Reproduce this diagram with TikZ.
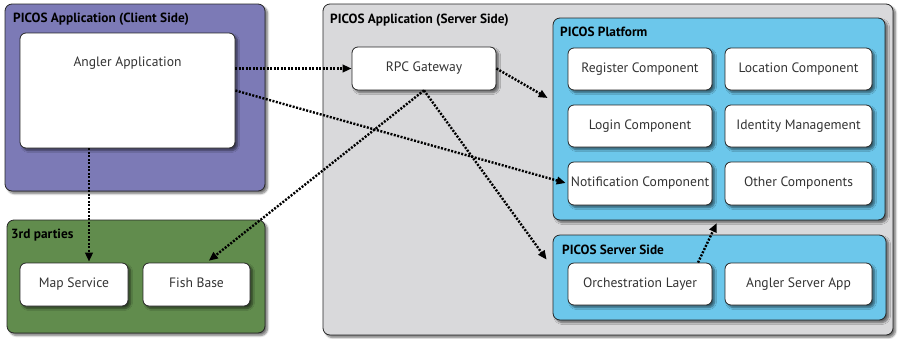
\documentclass[tikz,border=0pt]{standalone}
\usepackage{fontspec}
\setmainfont{PT Sans}
\usetikzlibrary{arrows.meta,shadows.blur,calc}
\definecolor{clientc}{HTML}{7C7AB6}
\definecolor{thirdc}{HTML}{618C4D}
\definecolor{serverc}{HTML}{D9D9DB}
\definecolor{platc}{HTML}{6CC7EB}
\tikzset{
  shad/.style={blur shadow={shadow xshift=2.5pt,shadow yshift=-2.5pt,shadow blur steps=6,shadow opacity=55}},
  grp/.style={shad, draw=black!85, line width=0.8pt, rounded corners=7pt, inner sep=0pt},
  comp/.style={shad, draw=black!85, fill=white, line width=0.8pt, rounded corners=6pt,
    minimum height=43pt, inner sep=1pt, text height=9.8pt, text depth=3pt, text=black!80,
    font=\fontsize{13.6}{15}\selectfont},
  ttl/.style={anchor=west, inner sep=0pt, text=black, font=\bfseries\fontsize{13.3}{15}\selectfont},
  flow/.style={-{Triangle[length=9pt,width=7.5pt]}, line width=2.4pt, dash pattern=on 2pt off 1.5pt}
}
\begin{document}
\begin{tikzpicture}[x=1pt,y=-1pt]
\useasboundingbox (0,0) rectangle (899,338);
% groups
\node[grp, fill=clientc, minimum width=260pt, minimum height=187pt] (client) at (135,97.5) {};
\node[grp, fill=thirdc, minimum width=258pt, minimum height=113pt] (third) at (136,276.5) {};
\node[grp, fill=serverc, minimum width=570pt, minimum height=331pt] (server) at (608,169.5) {};
\node[grp, fill=platc, minimum width=332pt, minimum height=202pt] (platform) at (719,119) {};
\node[grp, fill=platc, minimum width=333pt, minimum height=85pt] (srvside) at (719.5,277.5) {};
% titles
\node[ttl] (clientT) at (13,19) {PICOS Application (Client Side)};
\node[ttl] (thirdT) at (11,235) {3rd parties};
\node[ttl] (serverT) at (330,20) {PICOS Application (Server Side)};
\node[ttl] (platT) at (560,32) {PICOS Platform};
\node[ttl] (srvsideT) at (562,250) {PICOS Server Side};
% components
\node[comp, minimum width=215pt, minimum height=115pt] (angler) at (127.5,90.5) {};
\node[inner sep=0pt, text=black!80, font=\fontsize{13.6}{15}\selectfont] (anglerT) at (127.5,63) {Angler Application};
\node[comp, minimum width=108pt] (map) at (74,284.5) {Map Service};
\node[comp, minimum width=107pt] (fish) at (196.5,284.5) {Fish Base};
\node[comp, minimum width=144pt] (rpc) at (424,68.5) {RPC Gateway};
\node[comp, minimum width=144pt, minimum height=42pt] (reg) at (640,69) {Register Component};
\node[comp, minimum width=147pt, minimum height=42pt] (loc) at (798.5,69) {Location Component};
\node[comp, minimum width=144pt, minimum height=42pt] (login) at (640,126) {Login Component};
\node[comp, minimum width=147pt, minimum height=42pt] (ident) at (798.5,126) {Identity Management};
\node[comp, minimum width=144pt, minimum height=43pt] (notif) at (640,183.5) {Notification Component};
\node[comp, minimum width=147pt, minimum height=43pt] (other) at (798.5,183.5) {Other Components};
\node[comp, minimum width=144pt, minimum height=42pt] (orch) at (640,284) {Orchestration Layer};
\node[comp, minimum width=147pt, minimum height=42pt] (angsrv) at (798.5,284) {Angler Server App};
% connectors
\draw[flow] (angler.east |- rpc.west) -- (rpc.west);
\draw[flow, shorten >=2pt] (angler.east) -- (notif.west);
\draw[flow, shorten >=1pt] ([xshift=15pt]map.north |- angler.south) -- ([xshift=15pt]map.north);
\draw[flow, shorten >=3pt] (rpc.south) -- ([xshift=10pt]fish.north);
\draw[flow] (rpc.south) -- ($(srvside.north west)+(-6,25)$);
\draw[flow] (rpc.east) -- ($(platform.west)+(-5,-21)$);
\draw[flow, shorten >=3pt] ([xshift=58pt]orch.north) -- ([xshift=-1pt]platform.south);
\end{tikzpicture}
\end{document}
